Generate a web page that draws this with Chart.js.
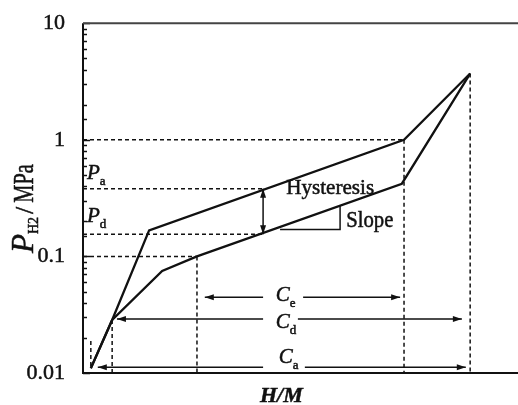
<!DOCTYPE html>
<html>
<head>
<meta charset="utf-8">
<script src="https://cdn.jsdelivr.net/npm/chart.js@4.4.0/dist/chart.umd.min.js"></script>
<style>
  html, body { margin: 0; padding: 0; background: #fff; }
  #wrap { width: 518px; height: 405px; }
</style>
</head>
<body>
<div id="wrap"><canvas id="pct"></canvas></div>
<script>
// absorption (upper) and desorption (lower) branch, H/M vs P in MPa
const absH = [0.018, 0.067, 0.152, 0.738, 0.890];
const absP = [0.011, 0.0285, 0.167, 1.0, 3.7];
const desH = [0.018, 0.067, 0.182, 0.262, 0.733, 0.890];
const desP = [0.011, 0.0285, 0.075, 0.1, 0.42, 3.7];

// plateau pressures at the hysteresis arrow
const hysH = 0.414;
const Pa = 0.38;
const Pd = 0.155;

// capacity arrows C_e, C_d, C_a
const capSubs = ['e', 'd', 'a'];
const capP = [0.0446, 0.029, 0.0112];
const capFrom = [0.28, 0.078, 0.034];
const capTo = [0.729, 0.871, 0.88];
const capGap = [[0.414, 0.506], [0.414, 0.494], [0.414, 0.51]];

// slope triangle
const slopeH = [0.453, 0.591, 0.591];
const slopeP = [0.17, 0.17, 0.27];

const yLabels = [0.01, 0.1, 1, 10];

const INK = '#111';
const SERIF = '"Liberation Serif", "DejaVu Serif", serif';

const pts = (hs, ps) => hs.map((h, i) => ({x: h, y: ps[i]}));
const solid = (data, w) => ({data, showLine: true, borderColor: INK, borderWidth: w, pointRadius: 0, fill: false, spanGaps: false});
const dashed = data => Object.assign(solid(data, 1.5), {borderDash: [4, 3]});

const datasets = [
  solid(pts(absH, absP), 2.3),
  solid(pts(desH, desP), 2.3),
  solid(pts(slopeH, slopeP), 1.5)
];

// dashed guides: horizontal from the axis, vertical down to the H/M axis
[[absP[3], absH[3]], [Pa, hysH], [Pd, hysH], [desP[3], desH[3]]].forEach(([p, h]) => {
  datasets.push(dashed([{x: 0, y: p}, {x: h, y: p}]));
});
[[absH[3], absP[3]], [absH[4], absP[4]], [desH[1], desP[1]], [desH[3], desP[3]]].forEach(([h, p]) => {
  datasets.push(dashed([{x: h, y: p}, {x: h, y: 0.01}]));
});
datasets.push(dashed([{x: desH[0], y: 0.0115}, {x: desH[0], y: 0.019}]));

// arrows
const hysArrow = solid([{x: hysH, y: Pa}, {x: hysH, y: Pd}], 1.5);
hysArrow.arrow = true;
datasets.push(hysArrow);
capP.forEach((p, i) => {
  const d = solid([
    {x: capFrom[i], y: p}, {x: capGap[i][0], y: p},
    {x: (capGap[i][0] + capGap[i][1]) / 2, y: null},
    {x: capGap[i][1], y: p}, {x: capTo[i], y: p}
  ], 1.5);
  d.arrow = true;
  datasets.push(d);
});

function head(ctx, tip, from) {
  const a = Math.atan2(tip.y - from.y, tip.x - from.x);
  const len = 9, hw = 3;
  ctx.beginPath();
  ctx.moveTo(tip.x, tip.y);
  ctx.lineTo(tip.x - len * Math.cos(a) + hw * Math.sin(a), tip.y - len * Math.sin(a) - hw * Math.cos(a));
  ctx.lineTo(tip.x - len * Math.cos(a) - hw * Math.sin(a), tip.y - len * Math.sin(a) + hw * Math.cos(a));
  ctx.closePath();
  ctx.fill();
}

const arrowHeads = {
  id: 'arrowHeads',
  afterDatasetsDraw(chart) {
    const ctx = chart.ctx;
    ctx.save();
    ctx.fillStyle = INK;
    chart.data.datasets.forEach((ds, i) => {
      if (!ds.arrow) return;
      const el = chart.getDatasetMeta(i).data;
      const n = el.length;
      head(ctx, el[0], el[1]);
      head(ctx, el[n - 1], el[n - 2]);
    });
    ctx.restore();
  }
};

// frame plus inward ticks
const frame = {
  id: 'frame',
  afterDraw(chart) {
    const {ctx, chartArea: a} = chart;
    const ys = chart.scales.y;
    ctx.save();
    ctx.strokeStyle = INK;
    ctx.lineWidth = 1.5;
    ys.ticks.forEach(t => {
      const y = Math.round(ys.getPixelForValue(t.value)) + 0.5;
      const major = yLabels.some(v => Math.abs(v - t.value) / v < 1e-6);
      ctx.beginPath();
      ctx.moveTo(a.left, y);
      ctx.lineTo(a.left + (major ? 7 : 4), y);
      ctx.stroke();
    });
    ctx.lineWidth = 2;
    ctx.beginPath();
    ctx.moveTo(a.left, a.top);
    ctx.lineTo(a.left, a.bottom);
    ctx.lineTo(a.right, a.bottom);
    ctx.stroke();
    ctx.strokeStyle = '#444';
    ctx.beginPath();
    ctx.moveTo(a.left, a.top);
    ctx.lineTo(a.right, a.top);
    ctx.stroke();
    ctx.restore();
  }
};

// text with an optional horizontal squeeze and a thin outline to thicken it
function txt(ctx, s, x, y, font, sx) {
  ctx.save();
  ctx.font = font;
  ctx.translate(x, y);
  ctx.scale(sx || 1, 1);
  ctx.fillText(s, 0, 0);
  ctx.lineWidth = 0.5;
  ctx.strokeStyle = INK;
  ctx.strokeText(s, 0, 0);
  const w = ctx.measureText(s).width * (sx || 1);
  ctx.restore();
  return w;
}

const notes = {
  id: 'notes',
  afterDraw(chart) {
    const {ctx} = chart;
    const xs = chart.scales.x, ys = chart.scales.y;
    const X = v => xs.getPixelForValue(v), Y = v => ys.getPixelForValue(v);
    ctx.save();
    ctx.fillStyle = INK;
    ctx.textAlign = 'left';
    ctx.textBaseline = 'alphabetic';
    const it = 'italic 21px ' + SERIF, sub = '13px ' + SERIF;

    // P_a, P_d next to the axis
    let w = txt(ctx, 'P', 87, Y(Pa) - 10, it);
    txt(ctx, 'a', 87 + w, Y(Pa) - 4, sub);
    w = txt(ctx, 'P', 87, Y(Pd) - 12, it);
    txt(ctx, 'd', 87 + w, Y(Pd) - 6, sub);

    txt(ctx, 'Hysteresis', X(0.467), Y(0.341), '22px ' + SERIF, 0.96);
    txt(ctx, 'Slope', X(0.605), Y(0.177), '23px ' + SERIF, 0.9);

    const capDy = [4, 9, -4];
    const capX = [0.443, 0.443, 0.450];
    capSubs.forEach((s, i) => {
      const by = Y(capP[i]) + capDy[i];
      const cw = txt(ctx, 'C', X(capX[i]), by, it);
      txt(ctx, s, X(capX[i]) + cw, by + 6, sub);
    });

    // axis titles
    txt(ctx, 'H/M', 260, 402, 'italic bold 22px ' + SERIF);
    ctx.translate(33, 253);
    ctx.rotate(-Math.PI / 2);
    let px = 0;
    px += txt(ctx, 'P', px, 0, 'italic 31px ' + SERIF);
    px += txt(ctx, 'H2', px, 5, '14px ' + SERIF) + 3;
    px += txt(ctx, '/', px, 0, '26px ' + SERIF) + 4;
    txt(ctx, 'MPa', px, 0, '30px ' + SERIF, 0.68);
    ctx.restore();
  }
};

new Chart(document.getElementById('pct'), {
  type: 'scatter',
  data: {datasets},
  options: {
    responsive: true,
    maintainAspectRatio: false,
    animation: false,
    layout: {padding: {top: 17, bottom: 32, left: 0, right: 0}},
    plugins: {legend: {display: false}, tooltip: {enabled: false}},
    scales: {
      x: {type: 'linear', min: 0, max: 1, display: false},
      y: {
        type: 'logarithmic', min: 0.01, max: 10,
        afterFit: s => { s.width = 83; },
        grid: {display: false},
        border: {display: false},
        ticks: {
          autoSkip: false,
          padding: 10,
          color: INK,
          textStrokeColor: INK,
          textStrokeWidth: 0.5,
          font: {family: SERIF, size: 22},
          callback: v => {
            const hit = yLabels.find(l => Math.abs(l - v) / l < 1e-6);
            return hit === undefined ? '' : String(hit);
          }
        }
      }
    }
  },
  plugins: [arrowHeads, frame, notes]
});
</script>
</body>
</html>
